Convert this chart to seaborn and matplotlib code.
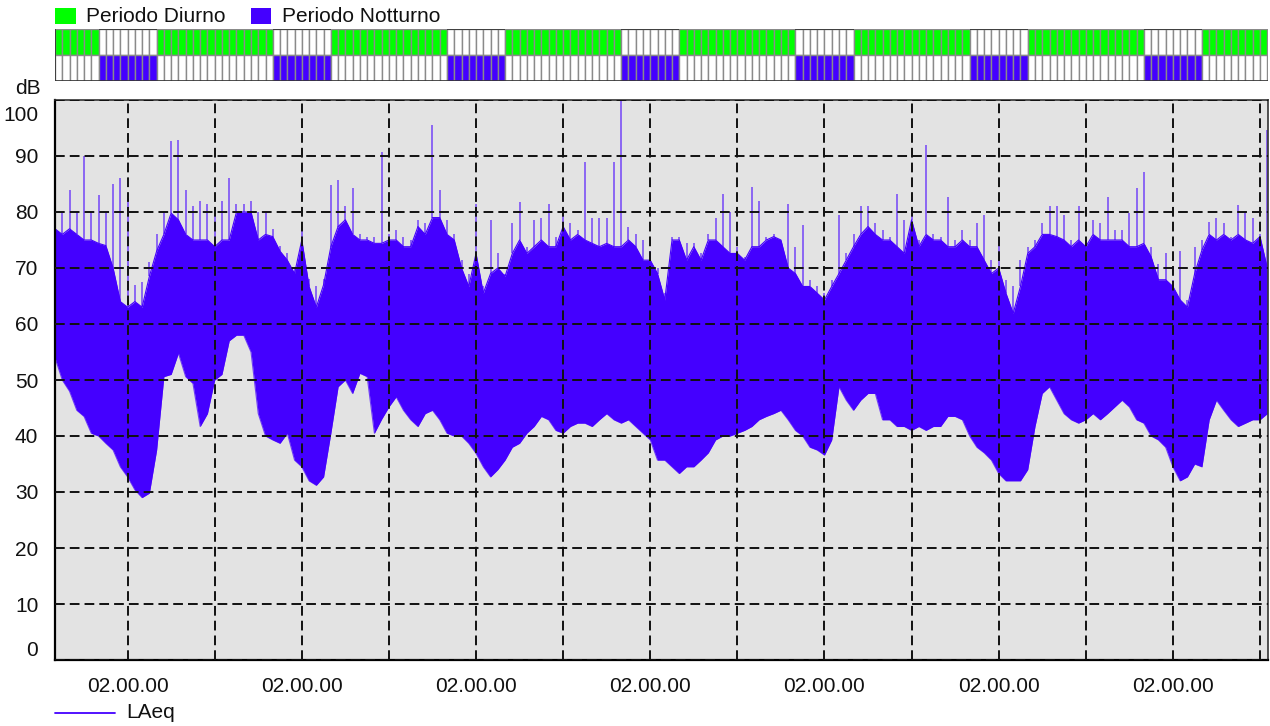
import matplotlib
matplotlib.use("Agg")
import matplotlib.pyplot as plt
import seaborn as sns
from matplotlib.patches import Rectangle
from matplotlib.lines import Line2D
from matplotlib.transforms import ScaledTranslation

# ---------------- data ----------------
# hour index since midnight of day 1 (16 = 16:00 on day 1)
hours = list(range(16, 184))

# lower envelope of LAeq (dB) per hour
laeq_low = [
    54, 50, 48, 44.6, 43.5, 40.5, 40, 38.7, 37.5, 34.5, 32.7, 30.4, 29, 29.8, 37.5, 50.6,
    51, 54.8, 50.6, 49.4, 41.7, 44, 50, 51, 57, 58, 58, 55,
    44, 40, 39.3, 38.7, 40.5, 35.7, 34.5, 32, 31.2, 32.7, 40.5, 48.8, 50, 47.6, 51.2, 50.6,
    40.5, 43, 45.2, 47, 44.6, 42.9, 41.7, 44, 44.6, 42.9, 40.5, 40,
    40, 38.7, 36.9, 34.5, 32.7, 34, 35.7, 38, 38.7, 40.5, 41.7, 43.5, 42.9, 41, 40.5, 41.7,
    42.3, 42.3, 41.7, 42.9, 44, 42.9, 42.3, 42.9, 41.7, 40.5, 39.3, 35.7,
    35.7, 34.5, 33.3, 34.5, 34.5, 35.7, 37, 39.3, 40, 40, 40.5, 41, 41.7, 42.9, 43.5, 44,
    44.6, 42.9, 41, 40, 38, 37.5, 36.6, 39.3, 48.8, 46.4, 44.6, 46.4,
    47.6, 47.6, 42.9, 42.9, 41.7, 41.7, 41, 41.7, 41, 41.7, 41.7, 43.5, 43.5, 42.9, 40, 38,
    37, 35.7, 33.3, 32, 32, 32, 34, 41.7, 47.6, 48.8, 46.4, 44,
    42.9, 42.3, 42.9, 44, 42.9, 44, 45.2, 46.4, 45.2, 42.9, 42.3, 40, 39.3, 38, 34.5, 32,
    32.7, 35, 34.5, 42.9, 46.4, 44.6, 42.9, 41.7, 42.3, 42.9, 42.9, 44,
]

# top of the dense band of LAeq (dB) per hour
laeq_core = [
    77, 76, 77, 76, 75, 75, 74.4, 74, 70, 64, 63, 64, 63, 68.5, 73, 76,
    79.8, 78.6, 76, 75, 75, 75, 73.8, 75, 75, 80, 80, 80,
    75, 76, 75.6, 73, 71.4, 69, 75, 66.7, 63, 67, 73.8, 77.4, 78.6, 76, 75, 75,
    74.4, 74.4, 75, 75, 73.8, 73.8, 77.4, 76, 79, 79, 76, 75,
    70, 66.7, 72.6, 65.5, 69, 70, 68.5, 72.6, 75, 72.6, 73.8, 75, 73.8, 73.8, 77.4, 75,
    76, 75, 74.4, 73.8, 74.4, 73.8, 73.8, 75, 73.8, 71.4, 71.4, 69,
    64.3, 75, 75, 71.4, 73.8, 71.4, 75, 75, 73.8, 72.6, 72.6, 71.4, 73.8, 73.8, 75, 75.6,
    75, 70, 69, 66.7, 66.7, 65.5, 64.3, 66.7, 69, 71.4, 73.8, 76,
    77.4, 76, 75, 75, 73.8, 72.6, 78.6, 73.8, 76, 75, 75, 73.8, 73.8, 75, 73.8, 73.8,
    71.4, 69, 70, 65.5, 61.9, 66.7, 72.6, 73.8, 76, 76, 75.6, 75,
    73.8, 75, 73.8, 76, 75, 75, 75, 75, 73.8, 73.8, 74.4, 72, 67.9, 67.9, 66.7, 64.3,
    63, 69, 73.2, 76, 75, 76, 75, 76, 75, 74.4, 75.6, 70,
]

# highest LAeq peak (dB) per hour
laeq_peak = [
    82, 80, 84, 80, 90, 80, 83, 80, 85, 86, 82.5, 67, 67.5, 71, 76, 80,
    92.6, 92.9, 84, 81, 82, 81.5, 80, 82, 86, 81.5, 81.5, 82,
    80, 80, 77, 74, 72.6, 70, 76.8, 68, 66.7, 68, 84.8, 85.7, 81, 84.2, 76, 75.6,
    75.6, 90.8, 76, 76.8, 75.6, 75, 78.6, 78, 95.5, 84, 78.6, 76,
    71.4, 69, 81.5, 66.7, 78.6, 72.6, 69, 78, 81.8, 73.8, 78.6, 79, 81.5, 75.6, 79.5, 78,
    76.8, 89, 79, 79, 79, 89, 100, 77.4, 76, 75, 73, 70,
    65.5, 75.6, 75.6, 74.4, 74.4, 72.6, 76, 79, 83.3, 80, 73.8, 72, 84.5, 82, 75.6, 76,
    75, 81.5, 73.8, 77.7, 67.9, 66.7, 65.5, 67.9, 79.5, 72.6, 76, 81,
    81, 78, 76.8, 75.6, 83.3, 78.6, 80, 75, 92, 76, 75.6, 82.7, 75, 76.8, 75, 78,
    79.5, 71.4, 75, 67.9, 66.7, 71.4, 73.8, 75, 78, 81, 81, 79.5,
    75, 81, 75, 78.6, 78, 82.7, 76.8, 76.8, 79.8, 84.2, 87.2, 73.8, 70.8, 72.6, 67.9, 73,
    64.3, 73.8, 75, 78.3, 78.9, 78, 75.6, 81.3, 80, 79, 76, 94.6,
]

tick_hours = [26, 50, 74, 98, 122, 146, 170]
tick_labels = ["02.00.00"] * 7
minor_hours = [38, 62, 86, 110, 134, 158, 182]
y_ticks = [0, 10, 20, 30, 40, 50, 60, 70, 80, 90, 100]
band_hours = list(range(16, 183))
day_start, day_end = 6, 22
period_labels = ["Periodo Diurno", "Periodo Notturno"]
series_label = "LAeq"
y_unit = "dB"

# ---------------- style ----------------
sns.set_style("white")
plt.rcParams['font.family'] = ['Liberation Sans', 'DejaVu Sans']

C_LINE = "#4400ff"
C_DAY = "#00ff00"
C_NIGHT = "#4400ff"
FS = 15

W, H = 1270, 726
fig = plt.figure(figsize=(W / 100, H / 100), dpi=100)


def fx(px):
    return px / W


def fy(py):
    return 1 - py / H


X0, X1 = 16, 183.1

# ---------------- main axes ----------------
ax = fig.add_axes([fx(55), fy(660), fx(1268) - fx(55), fy(100) - fy(660)])
ax.set_facecolor("#e3e3e3")

ax.fill_between(hours, laeq_low, laeq_core, color=C_LINE, lw=0, zorder=1.5)
ax.vlines(hours, laeq_core, laeq_peak, color=C_LINE, alpha=0.55, lw=1.4, zorder=1.6)
sns.lineplot(x=hours, y=laeq_core, ax=ax, color=C_LINE, lw=0.8, zorder=1.7)
sns.lineplot(x=hours, y=laeq_low, ax=ax, color=C_LINE, lw=0.8, alpha=0.7, zorder=1.7)

ax.set_xlim(X0, X1)
ax.set_ylim(0, 100)
ax.set_xlabel("")
ax.set_ylabel("")

ax.set_xticks(tick_hours)
ax.set_xticklabels(tick_labels)
ax.set_xticks(minor_hours, minor=True)
ax.set_yticks(y_ticks)
ax.set_yticklabels([str(v) for v in y_ticks])

ax.tick_params(axis="both", which="both", direction="out", length=10, width=1.3,
               color="black", labelsize=FS, labelcolor="#111111")
ax.tick_params(axis="x", which="both", pad=2)
ax.tick_params(axis="y", pad=2)

ylabels = ax.get_yticklabels()
ylabels[-1].set_verticalalignment("top")
ylabels[-1].set_transform(ylabels[-1].get_transform() + ScaledTranslation(0, -4 / 72, fig.dpi_scale_trans))
ylabels[0].set_verticalalignment("bottom")

ax.set_axisbelow(False)
ax.grid(True, which="both", axis="x", color="#111111", lw=1.4, linestyle=(0, (5, 2.6)), zorder=3)
ax.grid(True, which="major", axis="y", color="#111111", lw=1.4, linestyle=(0, (5, 2.6)), zorder=3)

for side in ["left", "bottom"]:
    ax.spines[side].set_color("black")
    ax.spines[side].set_linewidth(1.6)
for side in ["top", "right"]:
    ax.spines[side].set_color("#333333")
    ax.spines[side].set_linewidth(1.2)

# ---------------- day / night band ----------------
axb = fig.add_axes([fx(55), fy(81), fx(1268) - fx(55), fy(29) - fy(81)])
axb.set_xlim(X0, X1)
axb.set_ylim(0, 2)
axb.axis("off")
for h in band_hours:
    is_day = day_start <= (h % 24) < day_end
    axb.add_patch(Rectangle((h, 1), 1, 1, facecolor=C_DAY if is_day else "white",
                            edgecolor="#8a8a8a", lw=1.0))
    axb.add_patch(Rectangle((h, 0), 1, 1, facecolor="white" if is_day else C_NIGHT,
                            edgecolor="#8a8a8a", lw=1.0))
    if not is_day:
        axb.plot([h, h + 1], [2, 2], color="#333333", lw=1.2, solid_capstyle="butt")
axb.plot([X0, X1], [0, 0], color="#333333", lw=1.2)
axb.plot([X0, X0], [0, 2], color="#333333", lw=1.2)

# ---------------- legends / labels ----------------
fig.patches.append(Rectangle((fx(55), fy(24)), 21 / W, 16 / H, transform=fig.transFigure,
                             facecolor=C_DAY, edgecolor="none"))
fig.text(fx(86), fy(16), period_labels[0], fontsize=FS, va="center", ha="left", color="#111111")
fig.patches.append(Rectangle((fx(251), fy(24)), 20 / W, 16 / H, transform=fig.transFigure,
                             facecolor=C_NIGHT, edgecolor="none"))
fig.text(fx(282), fy(16), period_labels[1], fontsize=FS, va="center", ha="left", color="#111111")

fig.text(fx(28), fy(89), y_unit, fontsize=FS, va="center", ha="center", color="#111111")

fig.lines.append(Line2D([fx(55), fx(115)], [fy(713), fy(713)], transform=fig.transFigure,
                        color=C_LINE, lw=1.3))
fig.text(fx(126), fy(713), series_label, fontsize=FS, va="center", ha="left", color="#111111")

fig.savefig("out.png", dpi=100, facecolor="white")
